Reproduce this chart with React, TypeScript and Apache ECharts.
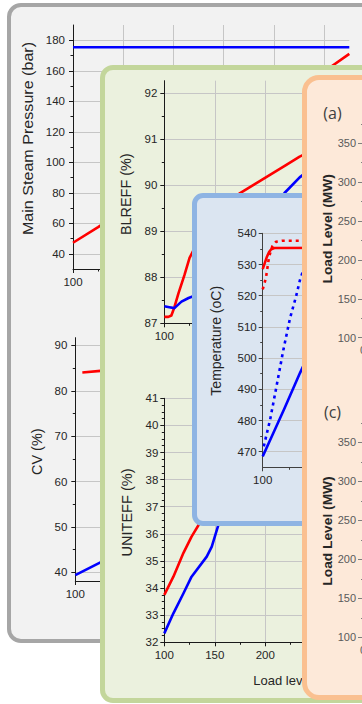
import React, { useEffect, useRef } from "react";
import * as echarts from "echarts";

const W = 600;
const H = 704;
const FONT = '"Liberation Sans", Arial, Helvetica, sans-serif';
const RED = "#ff0000";
const BLUE = "#0000ff";
const TXT = "#262626";

// ---------- shared load axis (MW) ----------
const loadMajor = [100, 150, 200, 250, 300, 350];
const loadMinor = [125, 175, 225, 275, 325, 375];

// ---------- panel 1: main steam pressure ----------
const pressureTicks = [40, 60, 80, 100, 120, 140, 160, 180];
const pressureMinor = [50, 70, 90, 110, 130, 150, 170];
const pressureRed = [[100, 47.2], [125, 57.5], [150, 68.5], [200, 91], [250, 113.5], [300, 136], [350, 159.5], [375, 171.1]];
const pressureBlue = [[100, 175.4], [200, 175.4], [300, 175.4], [375, 175.4]];

// ---------- panel 1: CV ----------
const cvTicks = [40, 50, 60, 70, 80, 90];
const cvMinor = [45, 55, 65, 75, 85];
const cvRed = [[107, 84.05], [125, 84.4], [150, 84.9], [200, 85.8], [250, 86.8], [300, 87.8], [375, 89.5]];
const cvBlue = [[100, 39.4], [125, 42.2], [150, 45], [200, 52], [250, 60], [300, 70], [375, 85]];

// ---------- panel 2: BLREFF ----------
const blrTicks = [87, 88, 89, 90, 91, 92];
const blrMinor = [87.5, 88.5, 89.5, 90.5, 91.5];
const blrRed = [[100, 87.14], [104, 87.14], [107, 87.17], [110, 87.35], [114, 87.65], [120, 88.05], [125, 88.42], [135, 88.85], [150, 89.3], [162, 89.58], [175, 89.83], [190, 90.03], [205, 90.23], [220, 90.43], [234, 90.62], [260, 90.9], [300, 91.25], [340, 91.5], [375, 91.7]];
const blrBlue = [[100, 87.37], [105, 87.35], [110, 87.33], [117, 87.47], [124, 87.55], [130, 87.6], [150, 88.05], [175, 88.65], [200, 89.3], [219, 89.83], [234, 90.17], [260, 90.6], [300, 91.0], [340, 91.3], [375, 91.45]];

// ---------- panel 2: UNITEFF ----------
const uniTicks = [32, 33, 34, 35, 36, 37, 38, 39, 40, 41];
const uniMinor = [32.25, 32.5, 32.75, 33.25, 33.5, 33.75, 34.25, 34.5, 34.75, 35.25, 35.5, 35.75, 36.25, 36.5, 36.75, 37.25, 37.5, 37.75, 38.25, 38.5, 38.75, 39.25, 39.5, 39.75, 40.25, 40.5, 40.75];
const uniRed = [[100, 33.75], [109, 34.42], [119, 35.3], [127, 35.9], [135, 36.39], [150, 37.1], [175, 37.9], [200, 38.5], [250, 39.3], [300, 39.8], [375, 40.3]];
const uniBlue = [[100, 32.33], [109, 33.07], [119, 33.81], [127, 34.42], [142, 35.16], [147, 35.53], [154, 36.39], [165, 37.0], [200, 38.0], [250, 38.9], [300, 39.4], [375, 39.9]];

// ---------- panel 3: temperature ----------
const tempTicks = [470, 480, 490, 500, 510, 520, 530, 540];
const tempMinor = [475, 485, 495, 505, 515, 525, 535];
const tempRedSolid = [[100, 528.5], [102, 530.5], [104, 532.5], [106, 534], [108, 534.9], [111, 535.3], [200, 535.4], [375, 535.4]];
const tempRedDotted = [[100, 522], [103, 525.6], [106, 532.5], [109, 535.8], [112.5, 537.3], [118, 537.6], [200, 537.6], [375, 537.6]];
const tempBlueSolid = [[100, 468.5], [110, 476], [120, 483.5], [135, 495.2], [150, 506], [175, 520], [200, 530], [250, 536], [375, 537]];
const tempBlueDotted = [[101, 471.7], [107, 480.3], [113, 491], [119.4, 502.6], [125.7, 512.8], [131.3, 519.7], [135, 525], [140, 530], [145, 533.5], [150, 535.5], [160, 537], [375, 537.5]];

// ---------- panel 4: load level axes ----------
const levelTicks = [100, 150, 200, 250, 300, 350];
const levelMinor = [125, 175, 225, 275, 325, 375];
const timeTicks = [0];

function axisPair(dim: "x" | "y", gridIndex: number, min: number, max: number, major: number[], minor: number[], o: any = {}) {
  const lc = o.lineColor ?? "#1a1a1a";
  const position = dim === "x" ? "bottom" : "left";
  const main = {
    type: "value", gridIndex, min, max, position, offset: 0,
    axisLine: { show: true, onZero: false, lineStyle: { color: lc, width: 1 } },
    axisTick: { show: true, inside: false, customValues: major, length: o.majorLen ?? 4, lineStyle: { color: lc, width: 1 } },
    axisLabel: { show: true, customValues: major, margin: o.margin ?? 7, fontSize: o.fontSize ?? 11.5, color: o.labelColor ?? TXT, fontFamily: FONT },
    splitLine: { show: o.split ?? true, lineStyle: { color: "#c6c6c6", width: 1 } },
    minorTick: { show: false },
  };
  const sub = {
    type: "value", gridIndex, min, max, position, offset: 0,
    axisLine: { show: false, onZero: false },
    axisTick: { show: true, inside: false, customValues: minor, length: o.minorLen ?? 2.5, lineStyle: { color: lc, width: 1 } },
    axisLabel: { show: false },
    splitLine: { show: false },
  };
  return [main, sub];
}

function line(data: number[][], color: string, xi: number, yi: number, type: any = "solid") {
  return {
    type: "line", data, xAxisIndex: xi, yAxisIndex: yi, symbol: "none", showSymbol: false,
    smooth: false, silent: true, clip: true,
    lineStyle: { color, width: 2.6, type, join: "round", cap: "butt" }, itemStyle: { color },
  };
}

function vTitle(text: string, x: number, y: number, fontSize = 14, scaleX = 1, bold = false) {
  return {
    type: "text", x, y, rotation: Math.PI / 2, scaleX, silent: true,
    style: { text, fill: TXT, fontSize, fontFamily: FONT, fontWeight: bold ? "bold" : "normal", align: "center", verticalAlign: "middle" },
  };
}

function grid(left: number, top: number, width: number, height: number) {
  return { left, top, width, height, containLabel: false, outerBoundsMode: "none", show: false };
}

const option1 = {
  animation: false,
  grid: [grid(73, 25, 276.3, 244), grid(75.3, 337.7, 276.6, 243.3)],
  xAxis: [...axisPair("x", 0, 100, 375, loadMajor, loadMinor), ...axisPair("x", 1, 100, 375, loadMajor, loadMinor)],
  yAxis: [...axisPair("y", 0, 30, 190, pressureTicks, pressureMinor, { margin: 8 }), ...axisPair("y", 1, 38.1, 91.7, cvTicks, cvMinor, { margin: 8 })],
  series: [line(pressureRed, RED, 0, 0), line(pressureBlue, BLUE, 0, 0), line(cvRed, RED, 2, 2), line(cvBlue, BLUE, 2, 2)],
  graphic: [vTitle("Main Steam Pressure (bar)", 28, 138.5, 14, 1.15), vTitle("CV (%)", 37.2, 451.7, 14, 1.03)],
};

const option2 = {
  animation: false,
  grid: [grid(164.3, 80.7, 277.8, 242.6), grid(164.3, 398.3, 277.8, 244)],
  xAxis: [...axisPair("x", 0, 100, 375, loadMajor, loadMinor), ...axisPair("x", 1, 100, 375, loadMajor, loadMinor)],
  yAxis: [...axisPair("y", 0, 87, 92.27, blrTicks, blrMinor), ...axisPair("y", 1, 32, 41, uniTicks, uniMinor, { margin: 6 })],
  series: [line(blrRed, RED, 0, 0), line(blrBlue, BLUE, 0, 0), line(uniRed, RED, 2, 2), line(uniBlue, BLUE, 2, 2)],
  graphic: [
    vTitle("BLREFF (%)", 126.2, 194.2, 14, 1.03),
    vTitle("UNITEFF (%)", 126.7, 512.5, 14, 1.04),
    { type: "text", x: 300.6, y: 680, silent: true, style: { text: "Load level (MW)", fill: TXT, fontSize: 13, fontFamily: FONT, align: "center", verticalAlign: "middle" } },
  ],
};

const option3 = {
  animation: false,
  grid: [grid(262.7, 233.3, 292.6, 234)],
  xAxis: axisPair("x", 0, 100, 375, loadMajor, loadMinor, { lineColor: "#404040" }),
  yAxis: axisPair("y", 0, 465, 540, tempTicks, tempMinor, { lineColor: "#404040", margin: 6 }),
  series: [
    line(tempRedSolid, RED, 0, 0),
    line(tempRedDotted, RED, 0, 0, [3, 4]),
    line(tempBlueSolid, BLUE, 0, 0),
    line(tempBlueDotted, BLUE, 0, 0, [3, 4]),
  ],
  graphic: [vTitle("Temperature (oC)", 216, 340.8, 14, 1)],
};

const orangeOpts = { lineColor: "#7f7f7f", labelColor: "#595959", fontSize: 11, margin: 7, majorLen: 5, minorLen: 2, split: false };
const option4 = {
  animation: false,
  grid: [grid(363, 119.9, 150, 217.8), grid(363, 418.9, 150, 218.4)],
  xAxis: [...axisPair("x", 0, 0, 400, timeTicks, [], orangeOpts), ...axisPair("x", 1, 0, 400, timeTicks, [], orangeOpts)],
  yAxis: [...axisPair("y", 0, 100, 380, levelTicks, levelMinor, orangeOpts), ...axisPair("y", 1, 100, 380, levelTicks, levelMinor, orangeOpts)],
  series: [],
  graphic: [
    { type: "text", x: 332.5, y: 113, silent: true, style: { text: "(a)", fill: "#404040", fontSize: 16, fontFamily: '"Open Sans", "Noto Sans", sans-serif', align: "center", verticalAlign: "middle" } },
    { type: "text", x: 332.5, y: 411.5, silent: true, style: { text: "(c)", fill: "#404040", fontSize: 16, fontFamily: '"Open Sans", "Noto Sans", sans-serif', align: "center", verticalAlign: "middle" } },
    vTitle("Load Level (MW)", 327.5, 228.8, 13, 1.06, true),
    vTitle("Load Level (MW)", 327.3, 531, 13, 1.06, true),
  ],
};

function EChart({ option }: { option: any }) {
  const ref = useRef<HTMLDivElement>(null);
  useEffect(() => {
    if (!ref.current) return;
    const chart = echarts.init(ref.current, undefined, { renderer: "svg", width: W, height: H });
    chart.setOption(option);
    return () => chart.dispose();
  }, [option]);
  return <div ref={ref} style={{ position: "absolute", left: 0, top: 0, width: W, height: H }} />;
}

function Panel({ left, top, width, height, border, bw, bg, radius }: any) {
  return (
    <div
      style={{
        position: "absolute", left, top, width, height, boxSizing: "border-box",
        border: `${bw}px solid ${border}`, borderRadius: radius, background: bg,
      }}
    />
  );
}

export default function App() {
  return (
    <div style={{ position: "absolute", left: 0, top: 0, width: 362, height: 704, overflow: "hidden", background: "#ffffff" }}>
      <Panel left={7} top={3} width={500} height={640} border="#a6a6a6" bw={4.5} bg="#f2f2f2" radius={14} />
      <EChart option={option1} />
      <Panel left={100} top={65} width={400} height={638} border="#c3d69b" bw={5} bg="#ebf1de" radius={13} />
      <EChart option={option2} />
      <Panel left={192} top={193} width={200} height={333} border="#8eb4e3" bw={5} bg="#dbe5f1" radius={11} />
      <EChart option={option3} />
      <Panel left={301.5} top={75} width={200} height={625} border="#fac090" bw={5} bg="#fde9d9" radius={17} />
      <EChart option={option4} />
    </div>
  );
}
